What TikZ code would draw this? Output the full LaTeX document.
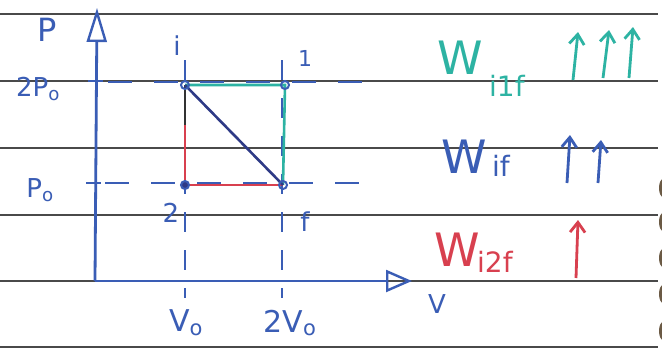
\documentclass[tikz,border=0pt]{standalone}
\usepackage{fontspec}
\setmainfont{DejaVu Sans}
\usetikzlibrary{arrows.meta,calc}
\definecolor{pen}{HTML}{3A5DB5}
\definecolor{teal2}{HTML}{2DB3A3}
\definecolor{red2}{HTML}{D8404F}
\definecolor{navy}{HTML}{2E3A86}
\definecolor{rule}{HTML}{4A4A4A}
\definecolor{hole}{HTML}{6B5A45}
\tikzset{
  ruleline/.style={rule, line width=1.1pt},
  axis/.style={pen, line width=2.8pt},
  guide/.style={pen, line width=2.6pt, dash pattern=on 24pt off 22pt},
  pt/.style={circle, draw=pen, line width=2pt, inner sep=0pt, minimum size=8pt},
  lab/.style={pen, font=\fontsize{26}{28}\selectfont, inner sep=0pt},
  wlab/.style={font=\fontsize{46}{48}\selectfont, inner sep=0pt},
  sublab/.style={font=\fontsize{28}{30}\selectfont, inner sep=0pt, anchor=west},
  uparrow/.style={line width=2.8pt, -{Straight Barb[length=10pt, width=15pt]}},
}
\begin{document}
\begin{tikzpicture}[x=1pt, y=-1pt]
\useasboundingbox (0,0) rectangle (662,349);
\fill[white] (0,0) rectangle (662,349);
% ruled paper
\foreach \yy in {14,81,148,215,281,347} \draw[ruleline] (0,\yy) -- (658,\yy);
% spiral holes
\foreach \yy in {188,222,258,294,331} \fill[hole] (663,\yy) ellipse (4pt and 9pt);
% points
\coordinate (O) at (95,281);
\coordinate (ytip) at (97,8);
\coordinate (xtip) at (412,281);
\coordinate (i) at (185,85);
\coordinate (one) at (285,85);
\coordinate (two) at (185,185);
\coordinate (f) at (283,185);
% guides
\draw[guide] (108,82) -- (378,82);
\draw[guide] (105,183) -- (372,183);
\draw[guide, dash pattern=on 20pt off 18pt] (185,60) -- (185,298);
\draw[guide, dash pattern=on 20pt off 18pt] (282,60) -- (282,298);
% axes
\draw[axis, -{Triangle[open, length=34pt, width=20pt, line width=2.4pt]}] (O) -- (ytip);
\draw[axis, -{Triangle[open, length=26pt, width=22pt, line width=2.4pt]}] (O) -- (xtip);
% ticks
\draw[axis] (88,81) -- (103,81);
\draw[axis] (86,183) -- (101,183);
% processes
\draw[teal2, line width=2.6pt] (i) -- (one) -- (f);
\draw[red2, line width=2.6pt] (i) -- (two) -- (f);
\draw[black!80, line width=2.6pt] (i) -- ($(i)!0.4!(two)$);
\draw[navy, line width=2.6pt] (i) -- (f);
\node[pt] (pi) at (i) {};
\node[pt] (p1) at (one) {};
\node[pt, fill=navy] (p2) at (two) {};
\node[pt] (pf) at (f) {};
% labels
\node[lab, font=\fontsize{32}{34}\selectfont] (P) at (47,30) {P};
\node[lab] (l2P) at (38,89) {2P\textsubscript{o}};
\node[lab] (lP) at (40,190) {P\textsubscript{o}};
\node[lab] (li) at (177,46) {i};
\node[lab, font=\fontsize{22}{24}\selectfont] (l1) at (305,58) {1};
\node[lab] (l2) at (171,213) {2};
\node[lab] (lf) at (305,222) {f};
\node[lab, font=\fontsize{30}{32}\selectfont] (lV0) at (186,323) {V\textsubscript{o}};
\node[lab, font=\fontsize{30}{32}\selectfont] (l2V0) at (290,323) {2V\textsubscript{o}};
\node[lab] (lV) at (437,304) {V};
% work labels
\node[wlab, teal2, anchor=west] (W1) at (437,58) {W};
\node[sublab, teal2] (W1s) at (489,86) {i1f};
\node[wlab, pen, anchor=west] (W) at (441,157) {W};
\node[sublab, pen] (Ws) at (492,166) {if};
\node[wlab, red2, anchor=west] (W2) at (434,250) {W};
\node[sublab, red2] (W2s) at (477,262) {i2f};
\draw[uparrow, teal2] (573,80) -- (578,32);
\draw[uparrow, teal2] (603,78) -- (609,30);
\draw[uparrow, teal2] (629,78) -- (633,27);
\draw[uparrow, pen] (567,183) -- (570,135);
\draw[uparrow, pen] (598,183) -- (601,140);
\draw[uparrow, red2] (576,278) -- (578,220);
\end{tikzpicture}
\end{document}
